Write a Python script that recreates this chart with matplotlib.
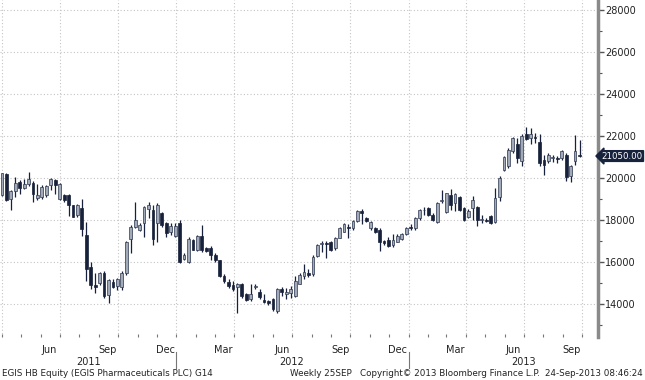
import numpy as np
import pandas as pd
import matplotlib
matplotlib.use("Agg")
import matplotlib.pyplot as plt
import matplotlib.dates as mdates
import matplotlib.transforms as mtransforms

# weekly OHLC, EGIS HB Equity
dates = pd.date_range(end="2013-09-27", periods=132, freq="W-FRI")

opens = [19102, 19213, 20205, 19024, 19370, 19811, 19543, 19701, 19780, 19055,
         19087, 19181, 19654, 19890, 19024, 19213, 19213, 18709, 18236, 18583,
         17291, 15748, 14929, 15008, 15480, 14456, 15039, 14850, 14818, 15480,
         17086, 17648, 17520, 17840, 18512, 18480, 17840, 18352, 17840, 17440,
         17232, 17840, 16150, 16000, 17072, 16592, 17232, 16688, 16650, 16358,
         16081, 15350, 15073, 14910, 14813, 14976, 14488, 14260, 14800, 14585,
         14211, 14130, 14260, 13675, 14699, 14488, 14536, 14374, 14976, 15350,
         15463, 15431, 16300, 16870, 16900, 16971, 16654, 17161, 17446, 17683,
         17604, 17952, 18427, 18111, 17604, 17604, 17525, 17003, 17050, 16813,
         16971, 17098, 17320, 17683, 17604, 18079, 18460, 18560, 18240, 17920,
         18900, 18400, 19200, 18832, 19088, 18560, 18160, 18560, 18608, 18000,
         18020, 18192, 17920, 19120, 20400, 20560, 21280, 21600, 20800, 22080,
         21920, 21950, 21712, 20850, 20800, 20970, 20930, 20960, 21120, 20080,
         20800, 21100]
highs = [19732, 20252, 20252, 19417, 20047, 19890, 19969, 20283, 19842, 19732,
         19654, 19685, 20000, 19969, 19780, 19260, 19260, 18740, 18787, 19024,
         17921, 15984, 15480, 15528, 15590, 15196, 15196, 15244, 15559, 17023,
         17764, 18880, 17840, 18672, 18880, 18720, 18800, 18400, 17920, 17872,
         17840, 18000, 16420, 17200, 17120, 17280, 17760, 16720, 16780, 16440,
         16114, 15431, 15187, 15106, 15024, 15024, 14536, 14976, 14950, 14699,
         14488, 14211, 14293, 14748, 14813, 14780, 14862, 15350, 15463, 15919,
         15675, 16325, 16850, 17000, 17000, 17003, 17209, 17683, 17842, 17794,
         18000, 18475, 18522, 18158, 17952, 17683, 17604, 17050, 17209, 17320,
         17320, 17367, 17683, 17794, 18158, 18506, 18610, 18608, 18320, 18880,
         19440, 19312, 19472, 19280, 19152, 18608, 18512, 19152, 18672, 18240,
         18080, 18240, 19520, 20080, 21072, 21440, 21968, 21920, 22080, 22450,
         22400, 22160, 22080, 21120, 21200, 21120, 21040, 21330, 21200, 20640,
         22030, 21800]
lows = [18898, 19150, 18898, 18504, 19102, 19260, 19465, 19622, 18866, 18976,
        19024, 19102, 19417, 19260, 18976, 18866, 18205, 18126, 18157, 17260,
        15118, 14740, 14535, 14929, 14300, 14062, 14771, 14692, 14692, 15401,
        16425, 17600, 17488, 17200, 18080, 16800, 16960, 17680, 17200, 17280,
        17200, 15950, 16080, 15950, 16560, 16528, 16480, 16480, 16100, 16000,
        15300, 15024, 14748, 14618, 13561, 14293, 14163, 14163, 14700, 14260,
        14049, 13967, 13675, 13561, 14374, 14260, 14293, 14325, 14943, 15187,
        15268, 15350, 16240, 16500, 16180, 16528, 16575, 17130, 17414, 17130,
        17525, 17921, 17794, 17921, 17525, 17367, 16528, 16813, 16733, 16733,
        16940, 17050, 17288, 17525, 17525, 18000, 18240, 18192, 17968, 17872,
        18800, 18352, 18480, 18448, 18448, 17968, 18080, 18000, 17712, 17840,
        17900, 17808, 17872, 18928, 20320, 20480, 21200, 20720, 20560, 21800,
        21600, 21680, 20560, 20160, 20720, 20750, 20720, 20880, 19840, 19790,
        20640, 21000]
closes = [19685, 20220, 18976, 19370, 19780, 19528, 19701, 19969, 19260, 19213,
          19575, 19622, 19937, 19685, 19732, 18945, 18709, 18157, 18740, 17575,
          15685, 14898, 14835, 15480, 14378, 15165, 14818, 15196, 15480, 16976,
          17653, 18000, 17760, 18608, 18720, 17120, 18720, 17760, 17392, 17712,
          17712, 16000, 16350, 17120, 16592, 17232, 16560, 16528, 16350, 16081,
          15350, 15106, 14862, 14699, 14943, 14374, 14211, 14488, 14830, 14325,
          14098, 14049, 13772, 14699, 14585, 14585, 14699, 15106, 15398, 15512,
          15398, 16244, 16800, 16900, 16870, 16575, 17161, 17636, 17794, 17604,
          17952, 18427, 18317, 17952, 17921, 17414, 16971, 16892, 16781, 17050,
          17256, 17320, 17604, 17604, 18111, 18475, 18500, 18240, 18000, 18800,
          18960, 19280, 18720, 19248, 18480, 18000, 18448, 18960, 18000, 18050,
          17980, 17840, 19040, 20000, 21008, 21360, 21920, 20960, 22000, 21870,
          22080, 21900, 20720, 20640, 21120, 21010, 20900, 21280, 20050, 20560,
          21280, 21050]

y_ticks = [14000, 16000, 18000, 20000, 22000, 24000, 26000, 28000]
year_labels = ["2011", "2012", "2013"]
footer_left = "EGIS HB Equity (EGIS Pharmaceuticals PLC) G14"
footer_mid = "Weekly 25SEP"
footer_copy = "Copyright\u00a9 2013 Bloomberg Finance L.P."
footer_right = "24-Sep-2013 08:46:24"

UP_FACE = "#a2a9b7"
UP_EDGE = "#2e3852"
DOWN = "#18213b"
GRID = "#c4c4c4"
TXT = "#222222"

plt.rcParams["font.family"] = "DejaVu Sans"

fig = plt.figure(figsize=(6.45, 3.8), dpi=100)
ax = fig.add_axes([0.0, 0.113, 0.927, 0.887])

o = np.array(opens, dtype=float)
h = np.array(highs, dtype=float)
l = np.array(lows, dtype=float)
c = np.array(closes, dtype=float)
up = c >= o
x = mdates.date2num(dates)

# wicks
ax.vlines(x, l, h, color=DOWN, lw=0.9, zorder=3)

# bodies
body_lo = np.minimum(o, c)
body_h = np.maximum(np.abs(c - o), 40)
ax.bar(x[up], body_h[up], bottom=body_lo[up], width=4.4,
       color=UP_FACE, edgecolor=UP_EDGE, linewidth=0.5, zorder=4)
ax.bar(x[~up], body_h[~up], bottom=body_lo[~up], width=4.4,
       color=DOWN, edgecolor=DOWN, linewidth=0.5, zorder=4)

ax.set_xlim(mdates.date2num(pd.Timestamp("2011-03-29")),
            mdates.date2num(pd.Timestamp("2013-10-26")))
ax.set_ylim(12430, 28480)

# grid: horizontal every 2000, vertical at quarter starts
for yv in y_ticks:
    ax.axhline(yv, color=GRID, lw=0.8, ls=(0, (1, 2)), zorder=1)
qstarts = pd.date_range("2011-04-01", "2013-10-01", freq="QS")
for q in qstarts:
    ax.axvline(mdates.date2num(q), color=GRID, lw=0.8, ls=(0, (1, 2)), zorder=1)

# right axis
ax.yaxis.tick_right()
ax.set_yticks(y_ticks)
ax.set_yticklabels([str(v) for v in y_ticks], fontsize=7, color=TXT)
ax.set_yticks(np.arange(13000, 28001, 2000), minor=True)
ax.tick_params(axis="y", which="major", direction="out", length=4, width=1,
               color="#555555", pad=1)
ax.tick_params(axis="y", which="minor", direction="out", length=3, width=0.8,
               color="#555555")
for side in ["top", "left", "bottom"]:
    ax.spines[side].set_visible(False)
ax.spines["right"].set_color("#8a8a8a")
ax.spines["right"].set_linewidth(2.5)

# x axis: month ticks, quarter-month labels at mid-month
ax.xaxis.set_minor_locator(mdates.MonthLocator())
ax.xaxis.set_major_locator(mdates.MonthLocator(bymonth=[3, 6, 9, 12], bymonthday=15))
ax.xaxis.set_major_formatter(mdates.DateFormatter("%b"))
ax.tick_params(axis="x", which="major", length=0, pad=6, labelsize=7, labelcolor=TXT)
ax.tick_params(axis="x", which="minor", direction="in", length=2.5, width=0.8, color="#777777")

trans = mtransforms.blended_transform_factory(ax.transData, ax.transAxes)
year_pos = [pd.Timestamp("2011-08-15"), pd.Timestamp("2012-07-01"), pd.Timestamp("2013-07-01")]
for lab, d in zip(year_labels, year_pos):
    ax.text(mdates.date2num(d), -0.075, lab, transform=trans, ha="center", va="center",
            fontsize=7, color=TXT)
for d in [pd.Timestamp("2012-01-01"), pd.Timestamp("2013-01-01")]:
    xd = mdates.date2num(d)
    ax.plot([xd, xd], [-0.045, -0.093], transform=trans, color="#777777", lw=0.8,
            clip_on=False)

# last price marker
ytrans = mtransforms.blended_transform_factory(ax.transAxes, ax.transData)
ax.text(1.006, closes[-1], f"{closes[-1]:.2f}", transform=ytrans, ha="left", va="center",
        fontsize=6.2, color="white", zorder=10,
        bbox=dict(boxstyle="larrow,pad=0.1", fc="#17223d", ec="#17223d"))

# footer
fy = 0.006
fs = 6.3
fig.text(0.003, fy, footer_left, fontsize=fs, color=TXT, ha="left", va="bottom")
fig.text(0.45, fy, footer_mid, fontsize=fs, color=TXT, ha="left", va="bottom")
fig.text(0.558, fy, footer_copy, fontsize=fs, color=TXT, ha="left", va="bottom")
fig.text(0.997, fy, footer_right, fontsize=fs, color=TXT, ha="right", va="bottom")

fig.savefig("out.png", dpi=100)
